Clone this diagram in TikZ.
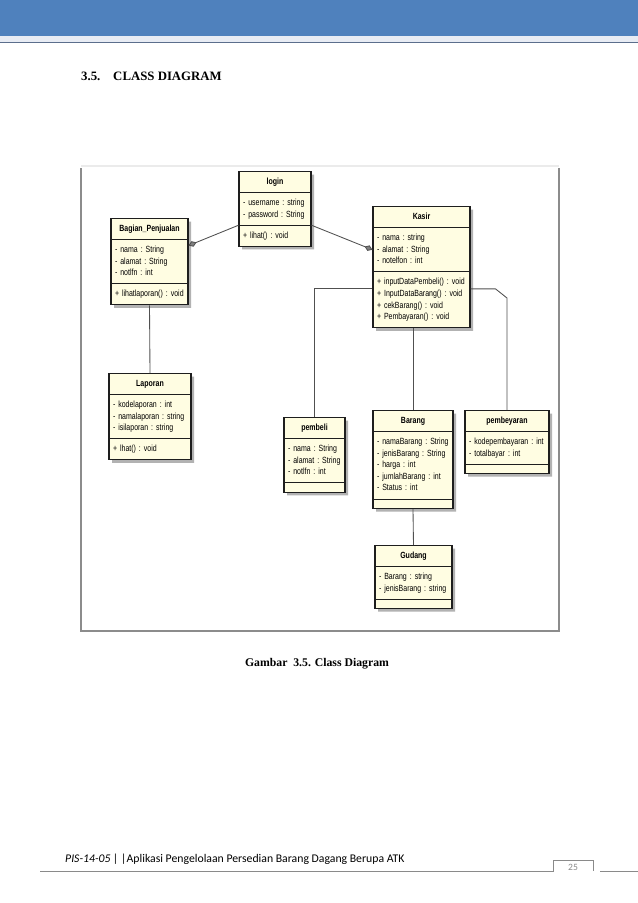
\documentclass[tikz,border=0pt]{standalone}
\usepackage{fontspec}
\setmainfont{Liberation Serif}
\newfontfamily\umlfont[FakeStretch=0.78]{Liberation Sans}
\newfontfamily\footfont{Carlito}
\usepackage{tikz}
\usetikzlibrary{arrows.meta,positioning,calc,shapes.multipart,shadows}
\definecolor{bandblue}{HTML}{4F81BD}
\definecolor{bandline}{HTML}{5B6E8C}
\definecolor{bandpale}{HTML}{E8ECF4}
\definecolor{classbg}{HTML}{FFFDE2}
\definecolor{classbd}{HTML}{1E1E1E}
\definecolor{wire}{HTML}{505050}
\definecolor{framegray}{HTML}{8C8C8C}
\definecolor{footgray}{HTML}{8A8A8A}
\newlength{\pxu}
\setlength{\pxu}{0.032915cm}
\newcommand{\umltitle}[1]{\hbox to\hsize{\hss\strut\textbf{#1}\hss}}
\tikzset{
  umlclass/.style={rectangle split,rectangle split parts=3,anchor=north,
                   draw=classbd,fill=classbg,line width=1pt,
                   text width=#1\pxu,align=left,
                   inner xsep=4\pxu,inner ysep=3.9pt,
                   font=\umlfont\fontsize{8.4}{10.9}\selectfont\frenchspacing,
                   drop shadow={shadow xshift=3\pxu,shadow yshift=-3\pxu,
                                fill=black!30,opacity=1}},
  assoc/.style={draw=wire,line width=0.8pt},
  aggr/.style={assoc,-{Diamond[fill=gray,color=wire,length=8pt,width=5.5pt]}},
  pagetext/.style={inner sep=0pt},
}
\begin{document}
\begin{tikzpicture}[x=0.032915cm,y=-0.032915cm]
  \useasboundingbox (0,0) rectangle (638,903);
  \fill[white] (0,0) rectangle (638,903);
  \fill[bandblue] (0,0) rectangle (638,36);
  \fill[bandpale] (0,36) rectangle (638,42);
  \draw[bandline,line width=0.8pt] (0,42.5) -- (638,42.5);

  \node[pagetext,anchor=base west,font=\bfseries\fontsize{12}{14}\selectfont]
    (heading) at (81,80) {3.5.\quad CLASS DIAGRAM};

  \draw[black!8,line width=1pt] (81,166) -- (559,166);
  \draw[framegray,line width=1.4pt] (81,168) -- (81,631) -- (559,631) -- (559,168);

  \node[umlclass=64] (login) at (275,171)
    {\umltitle{login}
     \nodepart{two}\strut- username : string\\- password : String\strut
     \nodepart{three}\strut+ lihat() : void\strut};
  \node[umlclass=69] (bagian) at (149.5,218)
    {\umltitle{Bagian\_Penjualan}
     \nodepart{two}\strut- nama : String\\- alamat : String\\- notlfn : int\strut
     \nodepart{three}\strut+ lihatlaporan() : void\strut};
  \node[umlclass=89] (kasir) at (421.5,206)
    {\umltitle{Kasir}
     \nodepart{two}\strut- nama : string\\- alamat : String\\- notelfon : int\strut
     \nodepart{three}\strut+ inputDataPembeli() : void\\+ InputDataBarang() : void\\
       + cekBarang() : void\\+ Pembayaran() : void\strut};
  \node[umlclass=74] (laporan) at (150,373)
    {\umltitle{Laporan}
     \nodepart{two}\strut- kodelaporan : int\\- namalaporan : string\\- isilaporan : string\strut
     \nodepart{three}\strut+ lhat() : void\strut};
  \node[umlclass=53] (pembeli) at (314.5,417)
    {\umltitle{pembeli}
     \nodepart{two}\strut- nama : String\\- alamat : String\\- notlfn : int\strut
     \nodepart{three}};
  \node[umlclass=72] (barang) at (413,410)
    {\umltitle{Barang}
     \nodepart{two}\strut- namaBarang : String\\- jenisBarang : String\\- harga : int\\
       - jumlahBarang : int\\- Status : int\strut
     \nodepart{three}};
  \node[umlclass=76] (pembeyaran) at (507,410)
    {\umltitle{pembeyaran}
     \nodepart{two}\strut- kodepembayaran : int\\- totalbayar : int\strut
     \nodepart{three}};
  \node[umlclass=69] (gudang) at (413.5,545)
    {\umltitle{Gudang}
     \nodepart{two}\strut- Barang : string\\- jenisBarang : string\strut
     \nodepart{three}};

  \draw[aggr] (login.two split west) -- ($(bagian.text split east)+(0,6)$);
  \draw[aggr] (login.two split east) -- ($(kasir.text split west)!0.5!(kasir.two split west)$);
  \draw[assoc] (bagian.south) -- (laporan.north);
  \draw[assoc] ($(kasir.two split west)+(0,17)$) -| (pembeli.north);
  \draw[assoc] (barang.north |- kasir.south) -- (barang.north);
  \draw[assoc] ($(kasir.two split east)+(0,17)$) -- ++(25,0)
    -- ($(pembeyaran.north)+(0,-112)$) -- (pembeyaran.north);
  \draw[assoc] (barang.south) -- (gudang.north);

  \node[pagetext,anchor=base,font=\bfseries\fontsize{11}{13}\selectfont]
    (caption) at (317,666) {Gambar\ \ 3.5. Class Diagram};

  \node[pagetext,anchor=base west,font=\footfont\fontsize{11}{13}\selectfont]
    (footer) at (65,862) {\textit{PIS-14-05 | |}Aplikasi Pengelolaan Persedian Barang Dagang Berupa ATK};
  \draw[footgray,line width=0.8pt] (40,871) -- (553,871) -- (553,860) -- (593,860) -- (593,871);
  \draw[footgray,line width=0.8pt] (600,871) -- (638,871);
  \node[pagetext,footgray,font=\footfont\fontsize{9}{10}\selectfont]
    (pagenum) at (573,867) {25};
\end{tikzpicture}
\end{document}
